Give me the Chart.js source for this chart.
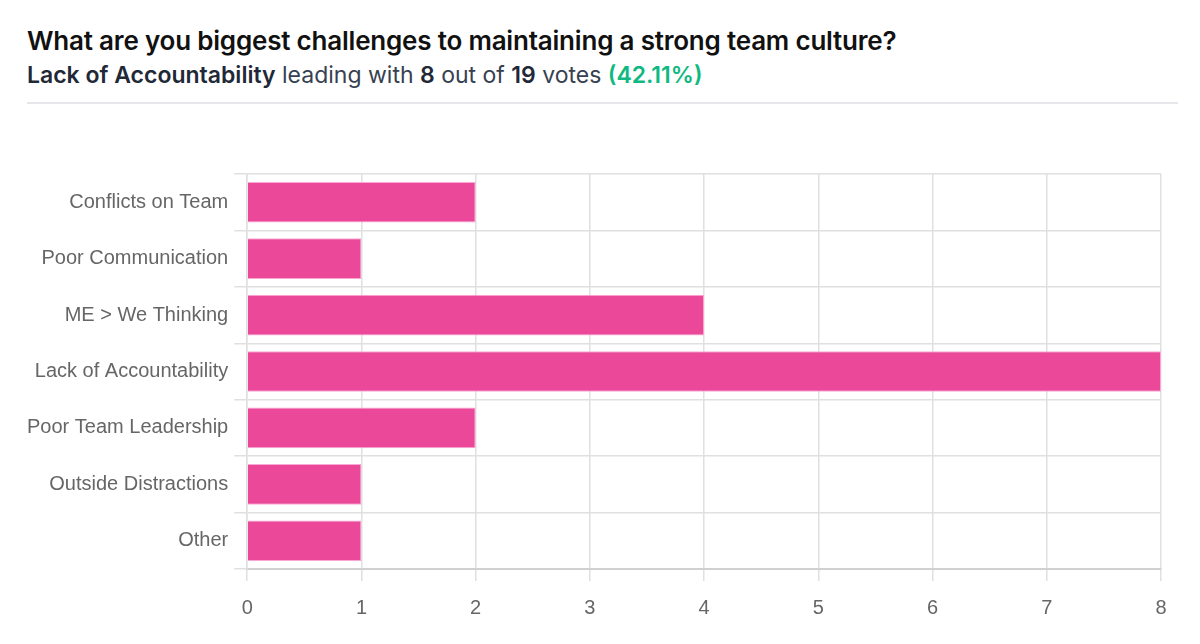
<!DOCTYPE html>
<html>
<head>
<meta charset="utf-8">
<script src="https://cdn.jsdelivr.net/npm/chart.js@4"></script>
<style>
  body { margin: 0; background: #fff; font-family: Inter, "Noto Sans", sans-serif; }
  .head { position: absolute; left: 27px; top: 22px; right: 0; white-space: nowrap; }
  h1 { margin: 0; font-size: 26px; font-weight: 600; color: #111; line-height: 38px; letter-spacing: -0.2px; }
  .sub { margin: 0; font-size: 23px; color: #374151; line-height: 30px; }
  .sub b { color: #1f2937; font-weight: 600; }
  .sub .pct { color: #10b981; font-weight: 600; }
  .rule { position: absolute; left: 27px; right: 22px; top: 102px; height: 2px; background: #e5e7eb; }
  .wrap { position: absolute; left: 0; top: 130px; width: 1200px; height: 514px; }
</style>
</head>
<body>
<div class="head">
  <h1>What are you biggest challenges to maintaining a strong team culture?</h1>
  <p class="sub"><b>Lack of Accountability</b> leading with <b>8</b> out of <b>19</b> votes <span class="pct">(42.11%)</span></p>
</div>
<div class="rule"></div>
<div class="wrap"><canvas id="pollChart"></canvas></div>
<script>
var categories = ['Conflicts on Team', 'Poor Communication', 'ME > We Thinking', 'Lack of Accountability', 'Poor Team Leadership', 'Outside Distractions', 'Other'];
var votes = [2, 1, 4, 8, 2, 1, 1];

var ctx = document.getElementById('pollChart');
new Chart(ctx, {
  type: 'bar',
  data: {
    labels: categories,
    datasets: [{
      label: 'Votes',
      data: votes,
      backgroundColor: '#EC4899',
      borderColor: '#F9A8D4',
      borderWidth: 1
    }]
  },
  options: {
    indexAxis: 'y',
    responsive: true,
    maintainAspectRatio: false,
    animation: false,
    layout: { padding: { top: 44, right: 39, left: 21, bottom: 9 } },
    plugins: {
      legend: { display: false },
      tooltip: { enabled: false }
    },
    scales: {
      x: {
        min: 0,
        max: 8,
        ticks: { stepSize: 1, color: '#666', font: { size: 20 }, padding: 15 },
        grid: { color: '#e0e0e0', lineWidth: 1.5, tickLength: 12 },
        border: { color: '#d0d0d0', width: 2 }
      },
      y: {
        ticks: { color: '#666', font: { size: 20 }, padding: 6 },
        grid: { color: '#e0e0e0', lineWidth: 1.5, tickLength: 13 },
        border: { color: '#e0e0e0', width: 1.5 }
      }
    }
  }
});
</script>
</body>
</html>
